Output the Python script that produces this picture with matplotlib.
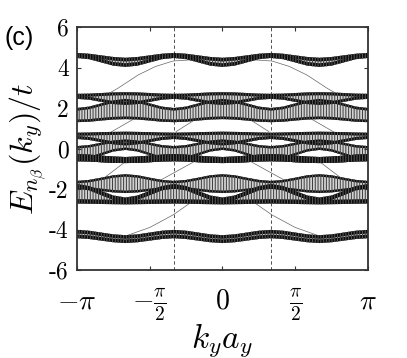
import numpy as np
import matplotlib.pyplot as plt

plt.rcParams['mathtext.fontset'] = 'cm'
plt.rcParams['hatch.linewidth'] = 0.7

# k_y grid, step pi/12
ky = np.linspace(-np.pi, np.pi, 25)

# band edges (E / t)
top_hi = [4.72, 4.68, 4.60, 4.52, 4.48, 4.52, 4.60, 4.68,
          4.72, 4.68, 4.60, 4.52, 4.48, 4.52, 4.60, 4.68,
          4.72, 4.68, 4.60, 4.52, 4.48, 4.52, 4.60, 4.68, 4.72]
top_lo = [4.47, 4.41, 4.25, 4.09, 4.03, 4.09, 4.25, 4.41,
          4.47, 4.41, 4.25, 4.09, 4.03, 4.09, 4.25, 4.41,
          4.47, 4.41, 4.25, 4.09, 4.03, 4.09, 4.25, 4.41, 4.47]
a_hi = [2.70, 2.71, 2.74, 2.77, 2.78, 2.77, 2.74, 2.71,
        2.70, 2.71, 2.74, 2.77, 2.78, 2.77, 2.74, 2.71,
        2.70, 2.71, 2.74, 2.77, 2.78, 2.77, 2.74, 2.71, 2.70]
a_lo = [2.45, 2.41, 2.30, 2.19, 2.15, 2.19, 2.30, 2.41,
        2.45, 2.41, 2.30, 2.19, 2.15, 2.19, 2.30, 2.41,
        2.45, 2.41, 2.30, 2.19, 2.15, 2.19, 2.30, 2.41, 2.45]
b_hi = [2.00, 2.07, 2.23, 2.38, 2.45, 2.38, 2.23, 2.07,
        2.00, 2.07, 2.23, 2.38, 2.45, 2.38, 2.23, 2.07,
        2.00, 2.07, 2.23, 2.38, 2.45, 2.38, 2.23, 2.07, 2.00]
b_lo = [1.30, 1.32, 1.38, 1.43, 1.45, 1.43, 1.38, 1.32,
        1.30, 1.32, 1.38, 1.43, 1.45, 1.43, 1.38, 1.32,
        1.30, 1.32, 1.38, 1.43, 1.45, 1.43, 1.38, 1.32, 1.30]
c_hi = [0.78, 0.79, 0.81, 0.82, 0.83, 0.82, 0.81, 0.79,
        0.78, 0.79, 0.81, 0.82, 0.83, 0.82, 0.81, 0.79,
        0.78, 0.79, 0.81, 0.82, 0.83, 0.82, 0.81, 0.79, 0.78]
c_lo = [0.47, 0.42, 0.31, 0.20, 0.15, 0.20, 0.31, 0.42,
        0.47, 0.42, 0.31, 0.20, 0.15, 0.20, 0.31, 0.42,
        0.47, 0.42, 0.31, 0.20, 0.15, 0.20, 0.31, 0.42, 0.47]
d_hi = [0.12, 0.17, 0.29, 0.40, 0.45, 0.40, 0.29, 0.17,
        0.12, 0.17, 0.29, 0.40, 0.45, 0.40, 0.29, 0.17,
        0.12, 0.17, 0.29, 0.40, 0.45, 0.40, 0.29, 0.17, 0.12]
d_lo = [-0.60, -0.52, -0.34, -0.15, -0.07, -0.15, -0.34, -0.52,
        -0.60, -0.52, -0.34, -0.15, -0.07, -0.15, -0.34, -0.52,
        -0.60, -0.52, -0.34, -0.15, -0.07, -0.15, -0.34, -0.52, -0.60]
e_hi = [-0.28, -0.30, -0.35, -0.40, -0.42, -0.40, -0.35, -0.30,
        -0.28, -0.30, -0.35, -0.40, -0.42, -0.40, -0.35, -0.30,
        -0.28, -0.30, -0.35, -0.40, -0.42, -0.40, -0.35, -0.30, -0.28]
e_lo = [-0.63, -0.64, -0.68, -0.71, -0.72, -0.71, -0.68, -0.64,
        -0.63, -0.64, -0.68, -0.71, -0.72, -0.71, -0.68, -0.64,
        -0.63, -0.64, -0.68, -0.71, -0.72, -0.71, -0.68, -0.64, -0.63]
g_hi = [-1.60, -1.55, -1.44, -1.32, -1.27, -1.32, -1.44, -1.55,
        -1.60, -1.55, -1.44, -1.32, -1.27, -1.32, -1.44, -1.55,
        -1.60, -1.55, -1.44, -1.32, -1.27, -1.32, -1.44, -1.55, -1.60]
g_lo = [-2.00, -2.03, -2.10, -2.17, -2.20, -2.17, -2.10, -2.03,
        -2.00, -2.03, -2.10, -2.17, -2.20, -2.17, -2.10, -2.03,
        -2.00, -2.03, -2.10, -2.17, -2.20, -2.17, -2.10, -2.03, -2.00]
h_hi = [-1.75, -1.85, -2.09, -2.32, -2.42, -2.32, -2.09, -1.85,
        -1.75, -1.85, -2.09, -2.32, -2.42, -2.32, -2.09, -1.85,
        -1.75, -1.85, -2.09, -2.32, -2.42, -2.32, -2.09, -1.85, -1.75]
h_lo = [-2.72, -2.73, -2.74, -2.75, -2.76, -2.75, -2.74, -2.73,
        -2.72, -2.73, -2.74, -2.75, -2.76, -2.75, -2.74, -2.73,
        -2.72, -2.73, -2.74, -2.75, -2.76, -2.75, -2.74, -2.73, -2.72]
bot_hi = [-4.02, -4.06, -4.15, -4.24, -4.28, -4.24, -4.15, -4.06,
          -4.02, -4.06, -4.15, -4.24, -4.28, -4.24, -4.15, -4.06,
          -4.02, -4.06, -4.15, -4.24, -4.28, -4.24, -4.15, -4.06, -4.02]
bot_lo = [-4.43, -4.47, -4.55, -4.63, -4.67, -4.63, -4.55, -4.47,
          -4.43, -4.47, -4.55, -4.63, -4.67, -4.63, -4.55, -4.47,
          -4.43, -4.47, -4.55, -4.63, -4.67, -4.63, -4.55, -4.47, -4.43]

# in-gap states (k_y in units of pi, E / t); mirrored to +k_y
edge_a = ([-0.82, -0.72, -0.58, -0.46, -0.34, -0.17, 0.0],
          [2.56, 2.97, 3.63, 4.05, 4.32, 4.40, 4.42])
edge_b = ([-0.80, -0.53], [0.67, 1.79])
edge_b2 = ([-0.32, -0.12], [0.83, 1.74])
edge_c = ([-0.95, -0.68], [-2.20, -0.72])
edge_d = ([-0.46, -0.19], [-1.70, -0.63])
edge_e = ([-0.97, -0.85, -0.67, -0.50, -0.34, -0.19],
          [-4.09, -4.28, -4.33, -3.90, -3.28, -2.53])

ribbons = [(top_hi, top_lo, 0.18), (a_hi, a_lo, 0.15), (b_hi, b_lo, 0.13),
           (c_hi, c_lo, 0.15), (d_hi, d_lo, 0.12), (e_hi, e_lo, 0.5),
           (g_hi, g_lo, 0.12), (h_hi, h_lo, 0.22), (bot_hi, bot_lo, 0.18)]

fig = plt.figure(figsize=(4.07, 3.58), dpi=100)
ax = fig.add_axes([77 / 407, 88 / 358, 291 / 407, 243 / 358])

for hi, lo, w in ribbons:
    hi, lo = np.array(hi), np.array(lo)
    ax.fill_between(ky, lo, hi, facecolor='#d2d2d2', edgecolor='#3c3c3c',
                    hatch='||||||', lw=0, zorder=1)
for hi, lo, w in ribbons:
    hi, lo = np.array(hi), np.array(lo)
    ax.fill_between(ky, np.maximum(hi - w, lo), hi, facecolor='#0c0c0c',
                    edgecolor='#5c5c5c', hatch='||||||', lw=0, zorder=2)
    ax.fill_between(ky, lo, np.minimum(lo + w, hi), facecolor='#0c0c0c',
                    edgecolor='#5c5c5c', hatch='||||||', lw=0, zorder=2)

for xs, ys in [edge_a, edge_b, edge_b2, edge_c, edge_d, edge_e]:
    xs = np.array(xs) * np.pi
    ax.plot(xs, ys, color='#666666', lw=0.5, zorder=0.5)
    ax.plot(-xs, ys, color='#666666', lw=0.5, zorder=0.5)

for x in (-np.pi / 3, np.pi / 3):
    ax.axvline(x, color='#333333', lw=0.6, ls=(0, (4, 3)), zorder=0.6)

ax.set_xlim(-np.pi, np.pi)
ax.set_ylim(-6, 6)
ax.set_xticks([-np.pi, -np.pi / 2, 0, np.pi / 2, np.pi])
ax.set_xticklabels([r'$-\pi$', r'$-\frac{\pi}{2}$', r'$0$',
                    r'$\frac{\pi}{2}$', r'$\pi$'], fontsize=20)
ax.set_yticks([-6, -4, -2, 0, 2, 4, 6])
ax.set_yticklabels(['-6', '-4', '-2', '0', '2', '4', '6'],
                   fontfamily='cmr10', fontsize=17)
ax.tick_params(direction='in', length=3, width=0.8, top=True, right=True,
               color='#333333')
ax.tick_params(axis='x', pad=12)
ax.tick_params(axis='y', pad=6)
for sp in ax.spines.values():
    sp.set_linewidth(1.3)
    sp.set_color('#333333')

ax.set_xlabel(r'$k_ya_y$', fontsize=24, labelpad=-2)
ax.set_ylabel(r'$E_{n_\beta}(k_y)/t$', fontsize=23, labelpad=0)
fig.text(4 / 407, 1 - 45 / 358, '(c)', fontsize=18,
         fontfamily='Liberation Sans')

fig.savefig('out.png', dpi=100)
